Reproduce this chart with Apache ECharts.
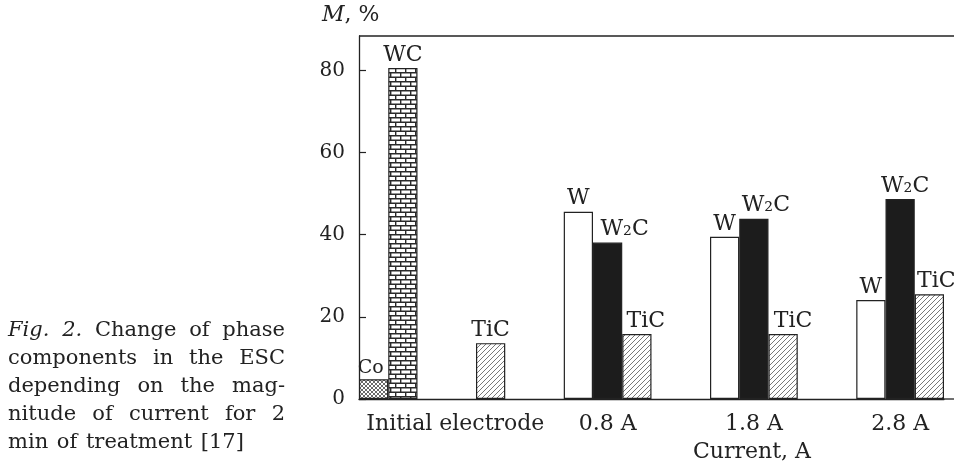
<!DOCTYPE html>
<html>
<head>
<meta charset="utf-8">
<script src="https://cdn.jsdelivr.net/npm/echarts@6/dist/echarts.min.js"></script>
<style>
html,body{margin:0;padding:0;background:#fff;}
#chart{width:954px;height:466px;}
</style>
</head>
<body>
<div id="chart"></div>
<script>
// ---- data ----
const categories = ['Initial electrode', '0.8 A', '1.8 A', '2.8 A'];
const valuesCo  = [4.8, null, null, null];
const valuesWC  = [80.6, null, null, null];
const valuesW   = [null, 45.6, 39.5, 24.1];
const valuesW2C = [null, 38.1, 43.9, 48.7];
const valuesTiC = [13.6, 15.8, 15.8, 25.5];
const yTicks = [0, 20, 40, 60, 80];
const captionLines = ['Fig. 2. Change of phase', 'components in the ESC', 'depending on the mag-', 'nitude of current for 2', 'min of treatment [17]'];
const italicWords = ['Fig.', '2.'];

// ---- layout / style ----
const FONT = '"DejaVu Serif", "Liberation Serif", serif';
const FS = 22;
const INK = '#222';
const SLOTS = 5;                 // slots per category group
const NSLOT = categories.length * SLOTS;
const GRID = {left: 359, top: 36, slot: 29.25, height: 363};
const slotOffset = {Co: 0, WC: 1, W: 2, W2C: 3, TiC: 4};
const labelShift = {
  Co: [-3, 0, 0, 0], WC: [0, 0, 0, 0], W: [0, 0, 0, 0],
  W2C: [0, 17, 12, 5], TiC: [0, 9, 10, 7]
};

function makePattern(kind) {
  const c = document.createElement('canvas');
  const ctx = c.getContext('2d');
  if (kind === 'brick') {
    c.width = 20; c.height = 9;
    ctx.fillStyle = '#fff'; ctx.fillRect(0, 0, 20, 9);
    ctx.strokeStyle = '#2a2a2a'; ctx.lineWidth = 1.4;
    ctx.beginPath();
    ctx.moveTo(0, 0.7); ctx.lineTo(20, 0.7);
    ctx.moveTo(0, 5.2); ctx.lineTo(20, 5.2);
    ctx.moveTo(0.7, 0); ctx.lineTo(0.7, 4.5);
    ctx.moveTo(10.7, 0); ctx.lineTo(10.7, 4.5);
    ctx.moveTo(5.7, 4.5); ctx.lineTo(5.7, 9);
    ctx.moveTo(15.7, 4.5); ctx.lineTo(15.7, 9);
    ctx.stroke();
  } else if (kind === 'hatch') {
    c.width = 5; c.height = 5;
    ctx.fillStyle = '#fff'; ctx.fillRect(0, 0, 5, 5);
    ctx.strokeStyle = '#555'; ctx.lineWidth = 0.8;
    ctx.beginPath();
    ctx.moveTo(-1, 6); ctx.lineTo(6, -1);
    ctx.moveTo(-1, 1); ctx.lineTo(1, -1);
    ctx.moveTo(4, 6); ctx.lineTo(6, 4);
    ctx.stroke();
  } else if (kind === 'cross') {
    c.width = 4; c.height = 4;
    ctx.fillStyle = '#fff'; ctx.fillRect(0, 0, 4, 4);
    ctx.strokeStyle = '#444'; ctx.lineWidth = 0.8;
    ctx.beginPath();
    ctx.moveTo(-1, 5); ctx.lineTo(5, -1);
    ctx.moveTo(-1, -1); ctx.lineTo(5, 5);
    ctx.stroke();
  }
  return {image: c, repeat: 'repeat'};
}

function toSlots(name, vals) {
  const arr = new Array(NSLOT).fill(null);
  vals.forEach((v, k) => {
    if (v != null) {
      arr[k * SLOTS + slotOffset[name]] = {value: v, label: {offset: [labelShift[name][k], 0]}};
    }
  });
  return arr;
}

function barSeries(name, vals, color, labelText, fs) {
  return {
    type: 'bar', name: name, data: toSlots(name, vals),
    barWidth: '100%', barGap: '-100%', barCategoryGap: 0,
    itemStyle: {color: color, borderColor: INK, borderWidth: 1.2},
    label: {show: true, position: 'top', distance: 2, formatter: labelText,
            fontFamily: FONT, fontSize: fs || FS, color: INK},
    emphasis: {disabled: true}, animation: false
  };
}

// caption, justified word by word
const CFS = 21;
const measure = document.createElement('canvas').getContext('2d');
const capGraphics = [];
const capLeft = 8, capRight = 285, capTop = 331, capPitch = 27.8;
captionLines.forEach((line, li) => {
  const words = line.split(' ');
  const widths = words.map(w => {
    const it = li === 0 && italicWords.includes(w);
    measure.font = (it ? 'italic ' : '') + CFS + 'px ' + FONT;
    return measure.measureText(w).width;
  });
  const total = widths.reduce((a, b) => a + b, 0);
  const last = li === captionLines.length - 1;
  measure.font = CFS + 'px ' + FONT;
  const gap = last ? measure.measureText(' ').width * 1.3 : (capRight - capLeft - total) / (words.length - 1);
  let x = capLeft;
  words.forEach((w, wi) => {
    const it = li === 0 && italicWords.includes(w);
    capGraphics.push({type: 'text', x: x, y: capTop + li * capPitch,
      style: {text: w, fontFamily: FONT, fontSize: CFS, fontStyle: it ? 'italic' : 'normal',
              fill: INK, verticalAlign: 'middle', align: 'left'}});
    x += widths[wi] + gap;
  });
});

const gridRight = GRID.left + NSLOT * GRID.slot;
const frameLines = [
  // top frame line and the continuation of the base line to the picture edge
  {type: 'line', shape: {x1: GRID.left, y1: GRID.top, x2: 954, y2: GRID.top}, style: {stroke: INK, lineWidth: 1.3}},
  {type: 'line', shape: {x1: gridRight, y1: GRID.top + GRID.height, x2: 954, y2: GRID.top + GRID.height}, style: {stroke: INK, lineWidth: 1.3}}
];

const chart = echarts.init(document.getElementById('chart'), null, {renderer: 'canvas'});
chart.setOption({
  animation: false,
  backgroundColor: '#fff',
  grid: {left: GRID.left, top: GRID.top, width: NSLOT * GRID.slot, height: GRID.height, show: false},
  xAxis: {
    type: 'category',
    data: Array.from({length: NSLOT}, (_, i) => String(i)),
    boundaryGap: true,
    axisLine: {show: true, lineStyle: {color: INK, width: 1.3}},
    axisTick: {show: false},
    axisLabel: {
      interval: 0, margin: 14, color: INK, fontFamily: FONT, fontSize: FS,
      formatter: (v, i) => (i % SLOTS === 3)
        ? (i < SLOTS ? '{first|' + categories[0] + '}' : categories[Math.floor(i / SLOTS)]) : '',
      rich: {first: {fontFamily: FONT, fontSize: FS, color: INK, padding: [0, 12, 0, 0]}}
    },
    splitLine: {show: false}
  },
  yAxis: {
    type: 'value', min: yTicks[0], max: 88.4, interval: yTicks[1] - yTicks[0],
    axisLine: {show: true, lineStyle: {color: INK, width: 1.3}},
    axisTick: {show: true, inside: true, length: 7, lineStyle: {color: INK, width: 1.2}},
    axisLabel: {showMaxLabel: false, margin: 14, color: INK, fontFamily: FONT, fontSize: 20,
                formatter: v => yTicks.includes(v) ? String(v) : ''},
    splitLine: {show: false}
  },
  series: [
    barSeries('Co', valuesCo, makePattern('cross'), 'Co', 19),
    barSeries('WC', valuesWC, makePattern('brick'), 'WC'),
    barSeries('W', valuesW, '#ffffff', 'W'),
    barSeries('W2C', valuesW2C, '#1c1c1c', 'W\u2082C'),
    barSeries('TiC', valuesTiC, makePattern('hatch'), 'TiC')
  ],
  graphic: [
    {type: 'text', x: 322, y: 15,
     style: {text: '{i|M}{r|, %}', verticalAlign: 'middle', align: 'left',
             rich: {i: {fontFamily: FONT, fontStyle: 'italic', fontSize: FS, fill: INK},
                    r: {fontFamily: FONT, fontSize: FS, fill: INK}}}},
    {type: 'text', x: 752, y: 452,
     style: {text: 'Current, A', fontFamily: FONT, fontSize: FS, fill: INK, align: 'center', verticalAlign: 'middle'}}
  ].concat(frameLines, capGraphics)
});
</script>
</body>
</html>
